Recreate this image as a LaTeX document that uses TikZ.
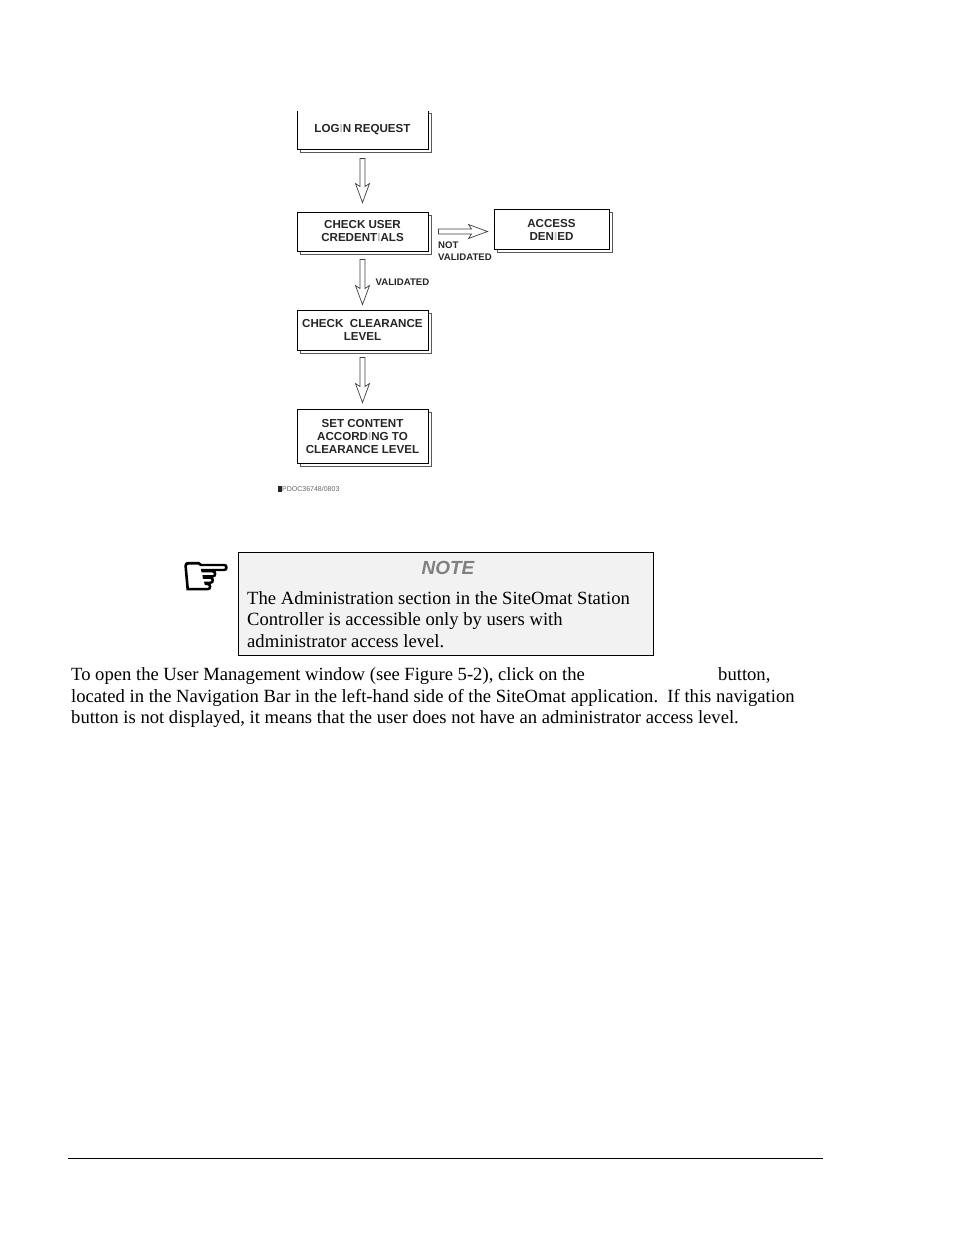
\documentclass[tikz,border=0pt]{standalone}
\usepackage{fontspec}
\setmainfont{Liberation Serif}
\newfontfamily\flowfont{Liberation Sans}
\newfontfamily\handfont[FakeBold=2.5]{DejaVu Sans}
\usetikzlibrary{calc,shadows}

\definecolor{notegray}{HTML}{F2F2F2}
\newcommand{\faintchar}[1]{{\color{black!25}#1}}

% hollow block arrow: from, to, gap at start, gap at end
\newcommand{\blockarrow}[4]{
  \coordinate (s) at ($(#1)!#3!(#2)$);
  \coordinate (t) at ($(#2)!#4!(#1)$);
  \coordinate (n) at ($(t)!16pt!(s)$);
  \coordinate (w) at ($(t)!19pt!(s)$);
  \draw[flowarrow] ($(s)!2.5pt!90:(t)$) to ($(n)!2.5pt!90:(t)$) to ($(w)!7pt!90:(t)$) to (t)
    to ($(w)!7pt!-90:(t)$) to ($(n)!2.5pt!-90:(t)$) to ($(s)!2.5pt!-90:(t)$) to cycle;
}

\tikzset{
  flowbox/.style={draw=black, line width=0.9pt, fill=white, inner sep=0pt, align=center,
    font=\flowfont\bfseries\fontsize{11.6}{13}\selectfont, text=black!85,
    copy shadow={shadow xshift=3.7pt, shadow yshift=-3pt, draw=black!65, fill=white, line width=0.8pt}},
  flowarrow/.style={line width=0.7pt, draw=black!75, fill=white, line join=miter},
  flowlabel/.style={inner sep=0pt, align=left, text=black!85, font=\flowfont\bfseries\fontsize{9.6}{11.5}\selectfont},
  bodyline/.style={anchor=base west, inner sep=0pt, font=\fontsize{18.62}{21}\selectfont}
}

\begin{document}
\begin{tikzpicture}[x=1pt, y=-1pt]
\useasboundingbox (0,0) rectangle (954,1235);

\node[flowbox, draw=none, outer sep=0pt, minimum width=131pt, minimum height=39pt] (login) at (362.5,130) {LOG\faintchar{I}N REQUEST};
\draw[black, line width=0.9pt] (login.north west) to (login.south west) to (login.south east) to (login.north east);
\node[flowbox, minimum width=131pt, minimum height=39pt] (user) at (362.5,231.5) {CHECK USER\\CREDENT\faintchar{I}ALS};
\node[flowbox, minimum width=115pt, minimum height=40pt] (denied) at (551.5,229.5) {ACCESS\\DEN\faintchar{I}ED};
\node[flowbox, minimum width=131pt, minimum height=40pt] (level) at (362.5,330) {CHECK\ \ CLEARANCE\\LEVEL};
\node[flowbox, minimum width=131pt, minimum height=54pt] (content) at (362.5,436) {SET CONTENT\\ACCORD\faintchar{I}NG TO\\CLEARANCE LEVEL};
\coordinate (deniedin) at (user.east -| denied.west);

\blockarrow{login.south}{user.north}{9pt}{9pt}
\blockarrow{user.south}{level.north}{8pt}{5pt}
\blockarrow{level.south}{content.north}{7pt}{6pt}
\blockarrow{user.east}{deniedin}{10pt}{6pt}

\node[flowlabel, anchor=north west] (notvalid) at (438,242) {NOT\\VALIDATED};
\node[flowlabel, anchor=west] (valid) at (375.5,282) {VALIDATED};

\node[inner sep=0pt, anchor=west, text=black!60, font=\flowfont\fontsize{7}{8}\selectfont] (docnum) at (282,489) {PDOC36748/0803};
\fill[black!85] (277.5,486) rectangle (282,492);

\node[draw=black, line width=1pt, fill=notegray, minimum width=415pt, minimum height=103pt, inner sep=0pt] (notebox) at (445.5,603.5) {};
\node[inner sep=0pt, text=black!50, font=\flowfont\bfseries\itshape\fontsize{19}{20}\selectfont] (notetitle) at (448,567.5) {NOTE};
\node[inner sep=0pt, font=\handfont\fontsize{58}{60}\selectfont] (hand) at (206,579) {☞};

\node[bodyline] (note1) at (247,604) {The Administration section in the SiteOmat Station};
\node[bodyline] (note2) at (247,625) {Controller is accessible only by users with};
\node[bodyline] (note3) at (247,647) {administrator access level.};

\node[bodyline] (text1) at (71,680) {To open the User Management window (see Figure 5-2), click on the};
\node[bodyline] (text1b) at (718,680) {button,};
\node[bodyline] (text2) at (71,702) {located in the Navigation Bar in the left-hand side of the SiteOmat application.\ \ If this navigation};
\node[bodyline] (text3) at (71,723) {button is not displayed, it means that the user does not have an administrator access level.};

\coordinate (ruleL) at (68,1158);
\coordinate (ruleR) at (823,1158);
\draw[line width=0.9pt, black] (ruleL) to (ruleR);

\end{tikzpicture}
\end{document}
